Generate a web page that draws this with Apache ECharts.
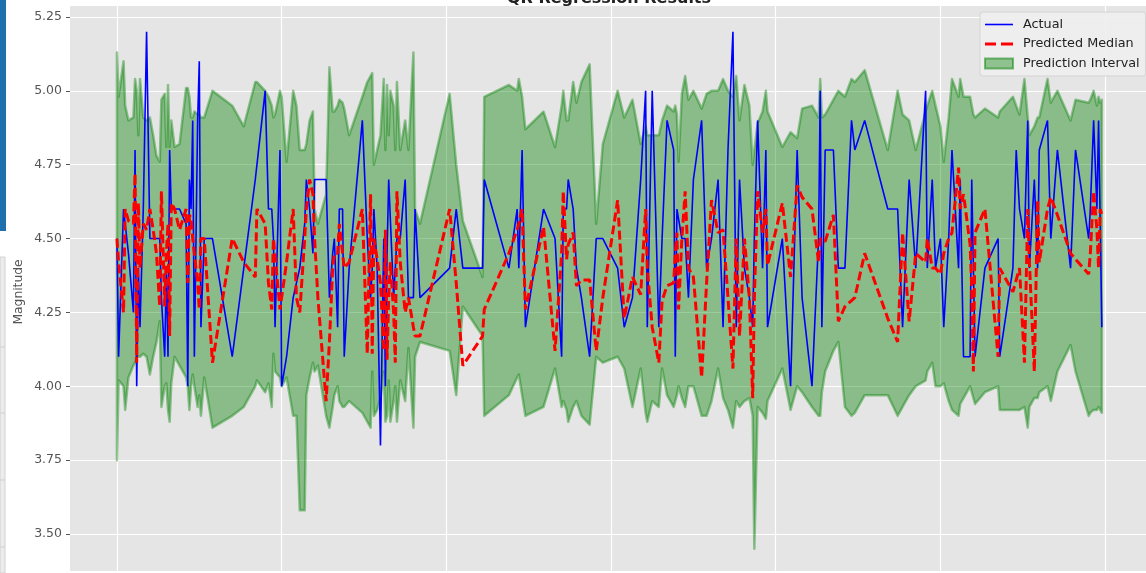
<!DOCTYPE html>
<html><head><meta charset="utf-8">
<script src="https://cdn.jsdelivr.net/npm/echarts@6/dist/echarts.min.js"></script>
<style>html,body{margin:0;padding:0;background:#fff}#c{width:1146px;height:573px}</style>
</head><body><div id="c"></div>
<script>
// ---------------- data ----------------
const titleText = 'QR Regression Results';
const yAxisName = 'Magnitude';
const legendNames = ['Actual', 'Predicted Median', 'Prediction Interval'];

const xValues = [
 0,1,4,5,7,10,11,12,13,14,
 16,18,20,22,24,26,27,29,30,31,
 32,33,35,38,42,43,44,45,46,47,
 49,50,51,53,58,70,77,84,85,90,
 92,94,95,96,99,100,103,107,109,111,
 114,115,117,119,120,122,127,129,131,132,
 134,135,137,138,141,149,152,154,155,156,
 158,160,162,163,164,165,166,168,169,170,
 172,175,177,180,181,184,202,206,210,222,
 223,238,243,244,246,248,259,266,270,271,
 273,274,277,279,282,287,291,295,304,308,
 313,318,321,322,325,329,331,334,338,339,
 340,341,343,345,347,350,355,358,361,365,
 368,371,374,376,378,381,384,386,387,389,
 392,394,395,404,409,413,416,422,426,427,
 428,430,435,438,442,446,448,454,468,474,
 477,481,485,491,492,495,497,500,502,505,
 507,511,512,514,518,519,520,521,527,535,
 536,544,546,548,551,553,554,557,559,560,
 565,567,571,579,582,590,591,593,595,596,
 597,598];

const actual = [
 4.5,4.1,4.6,4.55,4.45,4.25,4.8,4.0,4.4,4.2,
 4.6,5.2,4.5,4.5,4.5,4.5,4.3,4.1,4.4,4.1,
 4.8,4.6,4.6,4.6,4.55,4.0,4.7,4.6,4.9,4.1,
 4.9,5.1,4.2,4.5,4.5,4.1,4.4,4.7,4.7,5.0,
 4.6,4.6,4.5,4.2,4.8,4.0,4.1,4.3,4.35,4.4,
 4.55,4.7,4.6,4.45,4.7,4.7,4.7,4.3,4.45,4.5,
 4.2,4.6,4.6,4.1,4.4,4.9,4.5,4.3,4.4,4.6,
 4.4,3.8,4.5,4.0,4.45,4.7,4.7,4.3,4.4,4.5,
 4.5,4.7,4.3,4.3,4.6,4.3,4.4,4.6,4.4,4.4,
 4.7,4.4,4.6,4.4,4.8,4.2,4.6,4.5,4.1,4.6,
 4.6,4.7,4.6,4.4,4.3,4.1,4.5,4.5,4.4,4.2,
 4.3,4.7,5.0,4.2,5.0,4.2,4.5,4.9,4.8,4.1,
 4.6,4.6,4.5,4.5,4.3,4.7,4.9,4.4,4.5,4.7,
 4.2,4.8,5.2,4.2,4.7,4.4,4.3,4.2,4.5,4.9,
 4.4,4.8,4.2,4.5,4.0,4.8,4.3,4.0,4.5,5.0,
 4.2,4.8,4.8,4.4,4.4,4.9,4.8,4.9,4.6,4.6,
 4.2,4.7,4.4,5.0,4.4,4.7,4.4,4.5,4.2,4.5,
 4.8,4.4,4.7,4.1,4.1,4.7,4.4,4.1,4.4,4.5,
 4.1,4.4,4.8,4.6,4.5,4.9,4.4,4.7,4.4,4.8,
 4.9,4.5,4.8,4.4,4.8,4.5,4.6,4.9,4.6,4.9,
 4.9,4.2];

const predictedMedian = [
 4.5,4.42,4.25,4.6,4.56,4.55,4.72,4.08,4.62,4.4,
 4.55,4.53,4.6,4.53,4.45,4.27,4.66,4.27,4.45,4.55,
 4.17,4.62,4.6,4.53,4.6,4.35,4.58,4.57,4.5,4.45,
 4.35,4.26,4.5,4.5,4.08,4.5,4.42,4.37,4.6,4.55,
 4.35,4.26,4.5,4.5,4.26,4.3,4.42,4.6,4.3,4.25,
 4.5,4.6,4.7,4.65,4.5,4.3,3.95,4.15,4.4,4.45,
 4.45,4.55,4.45,4.4,4.42,4.6,4.11,4.65,4.11,4.5,
 4.43,4.35,4.12,4.53,4.09,4.3,4.42,4.25,4.08,4.66,
 4.42,4.25,4.3,4.2,4.17,4.17,4.6,4.35,4.07,4.17,
 4.26,4.45,4.53,4.55,4.6,4.26,4.54,4.12,4.45,4.66,
 4.43,4.48,4.52,4.34,4.36,4.36,4.12,4.3,4.63,4.23,
 4.37,4.31,4.6,4.4,4.2,4.08,4.29,4.34,4.35,4.45,
 4.52,4.26,4.5,4.66,4.4,4.37,4.03,4.35,4.63,4.52,
 4.53,4.3,4.06,4.5,4.17,4.5,4.3,3.96,4.3,4.66,
 4.52,4.6,4.41,4.62,4.37,4.68,4.64,4.6,4.42,4.5,
 4.5,4.49,4.58,4.22,4.27,4.29,4.3,4.45,4.23,4.15,
 4.52,4.22,4.45,4.42,4.5,4.4,4.4,4.38,4.45,4.5,
 4.52,4.74,4.6,4.65,4.48,4.33,4.05,4.52,4.6,4.1,
 4.4,4.32,4.36,4.4,4.08,4.6,4.42,4.05,4.63,4.42,
 4.6,4.64,4.58,4.45,4.43,4.38,4.45,4.66,4.53,4.4,
 4.6,4.58];

const lowerBound = [
 3.75,4.02,4.0,3.92,4.03,4.07,4.08,4.10,4.10,4.10,
 4.11,4.1,4.04,4.1,4.15,4.22,3.93,4.0,4.01,3.92,
 3.88,4.01,4.1,4.07,4.03,4.0,3.92,4.0,4.04,4.0,
 3.93,3.97,3.90,4.03,3.86,3.9,3.93,4.0,4.02,3.98,
 4.01,3.93,4.11,4.05,4.03,4.0,4.03,3.9,3.9,3.58,
 3.58,3.97,4.03,4.08,4.05,4.07,3.9,3.86,3.93,3.97,
 4.0,3.95,3.93,3.93,3.95,3.91,3.88,3.86,4.05,3.90,
 3.92,3.96,4.05,3.88,3.9,4.02,3.88,3.95,4.0,3.88,
 4.02,3.95,4.13,3.86,4.1,4.15,4.12,3.97,4.27,4.17,
 3.90,3.97,4.03,4.04,3.97,3.9,3.93,4.06,3.93,3.95,
 3.92,3.88,3.93,3.95,3.9,3.87,4.1,4.08,4.1,4.06,
 3.93,4.06,3.91,3.88,3.95,3.93,4.06,3.97,3.93,3.95,
 3.97,4.0,3.96,3.93,4.0,4.0,3.9,3.9,3.95,4.06,
 3.96,3.92,3.86,3.95,3.93,3.95,3.96,3.9,3.45,3.93,
 3.91,3.89,3.95,4.06,3.92,4.0,3.98,3.93,3.9,3.90,
 3.98,4.05,4.12,4.15,3.93,3.9,3.91,3.97,3.97,3.9,
 3.93,3.97,4.0,4.02,4.05,4.08,4.0,4.0,4.01,3.95,
 3.92,3.9,3.94,3.96,4.0,3.98,3.96,3.94,3.98,4.0,
 3.92,3.92,3.92,3.92,3.93,3.86,3.93,3.96,3.96,3.98,
 4.0,3.95,4.05,4.14,4.05,3.9,3.91,3.92,3.92,3.93,
 3.92,3.91];

const upperBound = [
 5.13,4.98,5.10,4.95,4.90,4.91,5.04,5.0,4.85,5.04,
 4.91,4.9,4.91,4.85,4.78,4.76,4.97,4.99,4.81,5.02,
 4.81,4.9,4.81,4.82,5.01,5.01,4.98,4.91,4.91,4.93,
 4.92,4.92,4.91,4.91,5.0,4.95,4.88,5.03,5.03,5.0,
 4.98,4.95,4.91,4.92,5.0,4.98,4.76,5.0,4.95,4.8,
 4.8,4.82,4.9,4.93,4.6,4.55,4.65,5.08,4.93,4.93,
 4.95,4.97,4.96,4.94,4.85,4.98,5.03,5.05,5.06,4.75,
 4.8,4.85,5.04,4.8,5.02,4.85,5.0,4.95,4.8,5.03,
 4.8,4.9,4.8,5.13,4.6,4.55,4.99,4.75,4.56,4.37,
 4.98,5.02,5.0,5.04,4.98,4.87,4.93,4.81,4.95,5.0,
 4.9,4.9,5.03,4.96,5.03,5.09,4.55,4.82,5.0,4.91,
 4.97,4.82,4.88,4.85,4.85,4.85,4.9,4.95,4.93,4.95,
 4.92,4.76,4.99,5.05,4.97,5.0,4.94,4.99,5.0,5.0,
 5.04,5.0,4.98,5.05,4.9,5.02,4.95,4.75,4.8,4.89,
 4.93,5.0,4.93,4.81,4.86,4.84,4.94,4.95,4.91,5.04,
 4.91,4.92,4.97,5.0,4.98,5.04,5.03,5.07,4.8,5.0,
 4.92,4.9,4.8,4.93,4.95,5.0,4.95,4.88,4.76,4.91,
 5.04,4.98,5.04,4.98,4.98,4.95,4.92,4.91,4.94,4.91,
 4.93,4.98,4.95,4.92,5.04,4.91,4.85,4.88,4.91,4.91,
 5.04,4.96,5.0,4.9,4.97,4.96,4.97,5.0,4.95,4.98,
 4.96,4.97];

// y axis ticks every 0.25 (3.25 and 5.50 fall just outside the visible canvas)
const yTickMin = 3.25, yTickMax = 5.5, yTickStep = 0.25;
// x axis visible range (grid lines every 100 from 0 to 600, no labels visible)
const xMinVisible = -28.5, xMaxVisible = 624.8;

[actual, predictedMedian, lowerBound, upperBound].forEach(a => {
  if (a.length !== xValues.length) throw new Error('length mismatch ' + a.length + ' vs ' + xValues.length);
});

// ---------------- layout ----------------
const W = 1146, H = 573;
const pxPerUnit = (534 - 17) / 1.75;          // 5.25 at y=17, 3.50 at y=534
const gridTop = 17 - (yTickMax - 5.25) * pxPerUnit;
const gridBottomY = 534 + (3.5 - yTickMin) * pxPerUnit;

const pts = arr => xValues.map((x, i) => [x, arr[i]]);

const bandColor = 'rgba(0,128,0,0.4)';
const font = '"DejaVu Sans", "Liberation Sans", sans-serif';

const chart = echarts.init(document.getElementById('c'), null, {renderer: 'canvas'});
chart.setOption({
  animation: false,
  backgroundColor: '#ffffff',
  grid: {
    left: 70, right: 0, top: gridTop, bottom: H - gridBottomY,
    outerBoundsMode: 'none', containLabel: false,
    show: true, backgroundColor: '#E5E5E5', borderWidth: 0
  },
  xAxis: {
    type: 'value', min: xMinVisible, max: xMaxVisible,
    axisLine: {show: false, onZero: false}, axisTick: {show: false}, axisLabel: {show: false},
    splitLine: {show: true, showMinLine: false, showMaxLine: false, lineStyle: {color: '#ffffff', width: 1.2}}
  },
  yAxis: {
    type: 'value', min: yTickMin, max: yTickMax, interval: yTickStep,
    axisLine: {show: false, onZero: false},
    axisTick: {show: true, length: 4, lineStyle: {color: '#555555', width: 1}},
    axisLabel: {color: '#555555', fontFamily: font, fontSize: 12.5, margin: 8,
      formatter: v => v.toFixed(2)},
    splitLine: {show: true, lineStyle: {color: '#ffffff', width: 1.2}}
  },
  legend: {
    data: [
      {name: legendNames[0], icon: 'path://M0,0h28v1.6h-28z', itemStyle: {color: '#0000ff'}},
      {name: legendNames[1], icon: 'path://M0,0h11v3h-11zM16,0h12v3h-12z', itemStyle: {color: '#ff0000'}},
      {name: legendNames[2], icon: 'rect',
       itemStyle: {color: bandColor, borderColor: 'rgba(0,128,0,0.5)', borderWidth: 2}}
    ],
    orient: 'vertical', left: 980, top: 12,
    itemWidth: 28, itemHeight: 10, itemGap: 6.5, symbolKeepAspect: true,
    padding: [6, 6, 6, 4],
    backgroundColor: 'rgba(238,238,238,0.9)', borderColor: '#d4d4d4', borderWidth: 1, borderRadius: 3,
    textStyle: {fontFamily: font, fontSize: 12.8, color: '#222222', padding: [0, 0, 0, 5]},
    selectedMode: false
  },
  series: [
    {name: legendNames[2], type: 'custom', silent: true, clip: true,
     data: xValues.map((x, i) => [x, lowerBound[i], upperBound[i]]),
     encode: {x: 0, y: [1, 2]},
     itemStyle: {color: bandColor},
     renderItem: (params, api) => {
       if (params.dataIndex !== 0) return null;
       const top = xValues.map((x, i) => api.coord([x, upperBound[i]]));
       const bottom = xValues.map((x, i) => api.coord([x, lowerBound[i]])).reverse();
       return {type: 'polygon', shape: {points: top.concat(bottom)},
               style: {fill: bandColor, stroke: bandColor, lineWidth: 2.5, lineJoin: 'round'}};
     }},
    {name: legendNames[0], type: 'line', data: pts(actual), symbol: 'none',
     lineStyle: {color: '#0000ff', width: 1.6}, itemStyle: {color: '#0000ff'}},
    {name: legendNames[1], type: 'line', data: pts(predictedMedian), symbol: 'none',
     lineStyle: {color: '#ff0000', width: 3, type: [9, 4]}, itemStyle: {color: '#ff0000'}}
  ],
  graphic: [
    {type: 'rect', z: 100, shape: {x: 0, y: 0, width: W, height: 6}, style: {fill: '#ffffff'}, silent: true},
    {type: 'rect', z: 100, shape: {x: 0, y: 571, width: W, height: 4}, style: {fill: '#ffffff'}, silent: true},
    {type: 'text', z: 101, x: 609, y: 6.5,
     style: {text: titleText, font: 'bold 16px ' + font, fill: '#222222', align: 'center', verticalAlign: 'bottom'}},
    {type: 'text', z: 101, x: 19, y: 292, rotation: Math.PI / 2,
     style: {text: yAxisName, font: '12.3px ' + font, fill: '#555555', align: 'center', verticalAlign: 'middle'}},
    {type: 'rect', z: 101, shape: {x: 0, y: 0, width: 6, height: 231}, style: {fill: '#1e6fae'}, silent: true},
    {type: 'rect', z: 101, shape: {x: 0, y: 257, width: 5, height: 316}, style: {fill: '#ececec', stroke: '#d2d2d2', lineWidth: 1}, silent: true},
    {type: 'line', z: 102, shape: {x1: 0, y1: 347, x2: 5, y2: 347}, style: {stroke: '#cfcfcf', lineWidth: 1}},
    {type: 'line', z: 102, shape: {x1: 0, y1: 413, x2: 5, y2: 413}, style: {stroke: '#cfcfcf', lineWidth: 1}},
    {type: 'line', z: 102, shape: {x1: 0, y1: 480, x2: 5, y2: 480}, style: {stroke: '#cfcfcf', lineWidth: 1}},
    {type: 'line', z: 102, shape: {x1: 0, y1: 547, x2: 5, y2: 547}, style: {stroke: '#cfcfcf', lineWidth: 1}}
  ]
});
</script></body></html>
